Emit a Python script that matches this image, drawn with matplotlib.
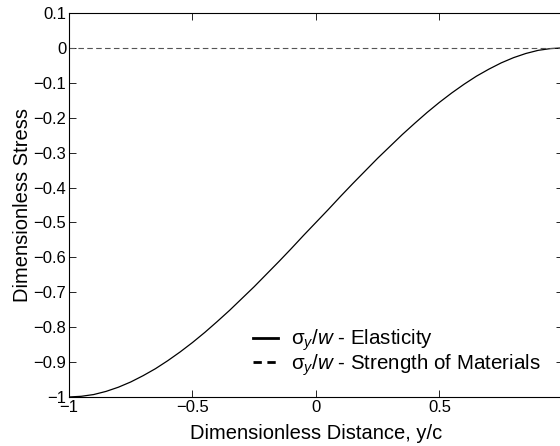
import matplotlib
matplotlib.use("Agg")
import matplotlib.pyplot as plt

plt.rcParams["font.family"] = ["Liberation Sans", "DejaVu Sans"]
plt.rcParams["mathtext.fontset"] = "custom"
plt.rcParams["mathtext.rm"] = "Liberation Sans"
plt.rcParams["mathtext.it"] = "Liberation Sans:italic"

# values
y_over_c = [-1.0, -0.95, -0.9, -0.85, -0.8, -0.75, -0.7, -0.65, -0.6, -0.55, -0.5,
            -0.45, -0.4, -0.35, -0.3, -0.25, -0.2, -0.15, -0.1, -0.05, 0.0,
            0.05, 0.1, 0.15, 0.2, 0.25, 0.3, 0.35, 0.4, 0.45, 0.5,
            0.55, 0.6, 0.65, 0.7, 0.75, 0.8, 0.85, 0.9, 0.95, 1.0]
stress_elasticity = [-1.0, -0.998, -0.993, -0.984, -0.972, -0.957, -0.939, -0.919, -0.896, -0.871, -0.844,
                     -0.815, -0.784, -0.752, -0.718, -0.684, -0.648, -0.612, -0.575, -0.537, -0.5,
                     -0.463, -0.425, -0.388, -0.352, -0.316, -0.282, -0.248, -0.216, -0.185, -0.156,
                     -0.129, -0.104, -0.081, -0.061, -0.043, -0.028, -0.016, -0.007, -0.002, 0.0]
strength_x = [-1.0, 1.0]
strength_y = [0.0, 0.0]

y_ticks = [-1, -0.9, -0.8, -0.7, -0.6, -0.5, -0.4, -0.3, -0.2, -0.1, 0, 0.1]
y_tick_labels = ["\u22121", "\u22120.9", "\u22120.8", "\u22120.7", "\u22120.6", "\u22120.5",
                 "\u22120.4", "\u22120.3", "\u22120.2", "\u22120.1", "0", "0.1"]
x_ticks = [-1, -0.5, 0, 0.5, 1]
x_tick_labels = ["\u22121", "\u22120.5", "0", "0.5", "1"]

fig = plt.figure(figsize=(5.6, 4.46), dpi=100)
ax = fig.add_axes([0.1232, 0.1099, 0.882, 0.861])

ax.plot(y_over_c, stress_elasticity, color="black", lw=0.9,
        label=r"$\mathrm{\sigma}_{y}/w$ - Elasticity")
ax.plot(strength_x, strength_y, color="#555555", lw=0.8, ls=(0, (5, 3)),
        label=r"$\mathrm{\sigma}_{y}/w$ - Strength of Materials")

ax.set_xlim(-1, 1)
ax.set_ylim(-1, 0.1)
ax.set_xticks(x_ticks)
ax.set_xticklabels(x_tick_labels)
ax.set_yticks(y_ticks)
ax.set_yticklabels(y_tick_labels)
ax.tick_params(direction="in", top=True, right=True, labelsize=12, length=5,
               width=0.6, pad=2)
for s in ax.spines.values():
    s.set_linewidth(0.8)

ax.set_xlabel("Dimensionless Distance, y/c", fontsize=14.5, labelpad=7)
ax.set_ylabel("Dimensionless Stress", fontsize=14.5, labelpad=1)

leg = ax.legend(loc="center left", frameon=False, fontsize=14.8,
                bbox_to_anchor=(0.372, 0.115), borderpad=0, borderaxespad=0,
                handlelength=1.25, handletextpad=0.6, labelspacing=-0.05)
for h in leg.get_lines():
    h.set_color("black")
    h.set_linewidth(2)
leg.get_lines()[1].set_linestyle((0, (3, 2)))

fig.savefig("out.png", dpi=100)
